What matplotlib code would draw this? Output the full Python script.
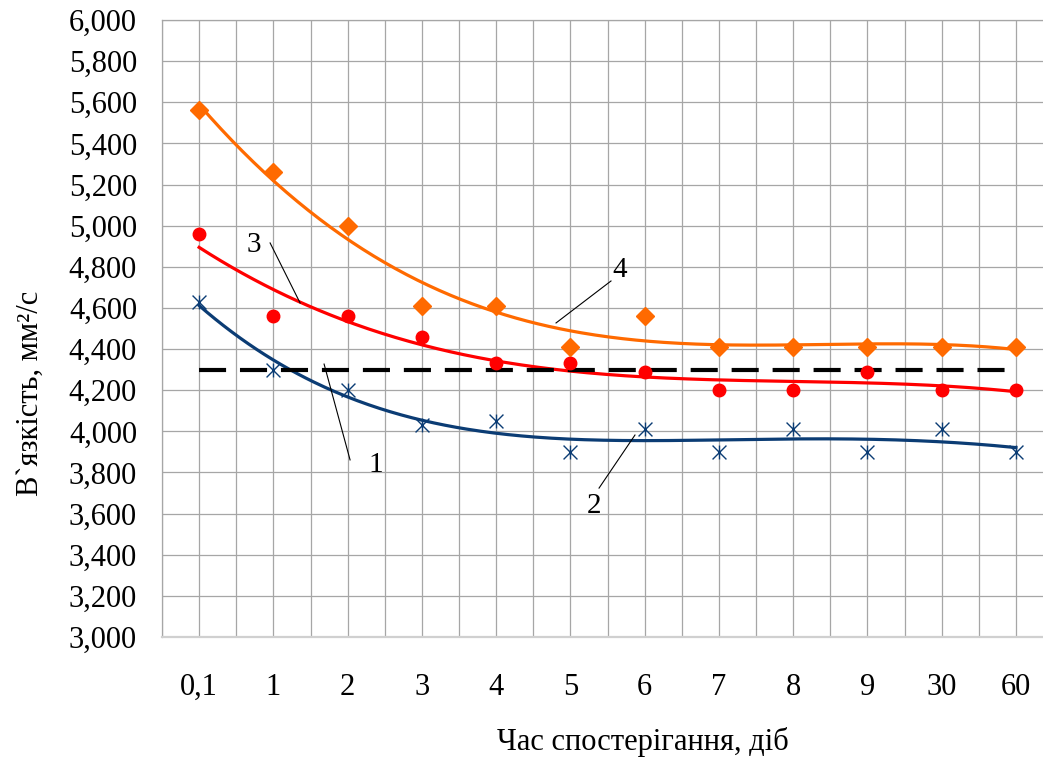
import numpy as np
import matplotlib.pyplot as plt
from matplotlib.path import Path

plt.rcParams['font.family'] = ['Liberation Serif', 'DejaVu Serif']
plt.rcParams['lines.scale_dashes'] = False

# categories (storage time, days)
x_labels = ['0,1', '1', '2', '3', '4', '5', '6', '7', '8', '9', '30', '60']
# 1 - norm level
norm = [4.30] * len(x_labels)
# 2, 3, 4 - measured viscosity, mm2/s
visc2 = [4.63, 4.30, 4.20, 4.03, 4.05, 3.90, 4.01, 3.90, 4.01, 3.90, 4.01, 3.90]
visc3 = [4.96, 4.56, 4.56, 4.46, 4.33, 4.33, 4.29, 4.20, 4.20, 4.29, 4.20, 4.20]
visc4 = [5.56, 5.26, 5.00, 4.61, 4.61, 4.41, 4.56, 4.41, 4.41, 4.41, 4.41, 4.41]

c_blue = '#0B3C74'
c_red = '#FF0000'
c_orange = '#FF6A00'

# Excel-like star marker: X with a vertical bar
star = Path([(-1, -1), (1, 1), (-1, 1), (1, -1), (0, -1), (0, 1)],
            [Path.MOVETO, Path.LINETO, Path.MOVETO, Path.LINETO, Path.MOVETO, Path.LINETO])

fig = plt.figure(figsize=(10.43, 7.6), dpi=100)
ax = fig.add_axes([162 / 1043, 123 / 760, 891 / 1043, 617 / 760])

x = np.arange(len(x_labels))
xf = np.linspace(0, len(x_labels) - 1, 300)

# polynomial trend lines
for vals, col, deg in [(visc2, c_blue, 4), (visc3, c_red, 3), (visc4, c_orange, 4)]:
    p = np.polyfit(x, vals, deg)
    ax.plot(xf, np.polyval(p, xf), color=col, lw=2.3, zorder=3)

ax.plot(x, norm, color='black', lw=3, dashes=(19.5, 10), zorder=4)

ax.plot(x, visc2, ls='none', marker=star, ms=10, mec=c_blue, mew=1.0, zorder=5)
ax.plot(x, visc3, ls='none', marker='o', ms=9, color=c_red, zorder=5)
ax.plot(x, visc4, ls='none', marker='D', ms=9, color=c_orange, zorder=5)

# curve labels with leader lines
ax.plot([1.683, 2.033], [4.327, 3.861], color='black', lw=0.8, zorder=6)
ax.plot([5.87, 5.386], [3.982, 3.724], color='black', lw=0.8, zorder=6)
ax.plot([0.956, 1.36], [4.916, 4.624], color='black', lw=0.8, zorder=6)
ax.plot([5.547, 4.807], [4.731, 4.527], color='black', lw=0.8, zorder=6)
for tx, ty, s in [(2.383, 3.836, '1'), (5.318, 3.637, '2'), (0.74, 4.906, '3'), (5.67, 4.785, '4')]:
    ax.text(tx, ty, s, fontsize=21, ha='center', va='center', zorder=6)

ax.set_xlim(-0.5, len(x_labels) - 0.5)
ax.set_ylim(3.0, 6.0)
ax.set_xticks(x)
ax.set_xticklabels(x_labels)
ax.set_xticks(np.arange(-0.5, len(x_labels), 1.0), minor=True)
yt = np.arange(3.0, 6.001, 0.2)
ax.set_yticks(yt)
ax.set_yticklabels([f'{v:.3f}'.replace('.', ',') for v in yt])
ax.tick_params(axis='both', which='both', length=0, labelsize=22)
ax.tick_params(axis='x', pad=26)
ax.tick_params(axis='y', pad=18)

ax.grid(True, which='both', axis='x', color='#A6A6A6', lw=0.9)
ax.grid(True, which='major', axis='y', color='#A6A6A6', lw=0.9)
ax.set_axisbelow(True)
for side in ['top', 'left', 'right']:
    ax.spines[side].set_color('#A6A6A6')
    ax.spines[side].set_linewidth(0.9)
ax.spines['bottom'].set_color('#D0D0D0')
ax.spines['bottom'].set_linewidth(1.6)

fig.text(30 / 1043, 1 - 393 / 760, 'В`язкість, мм²/с', rotation=90,
         ha='center', va='center', fontsize=22)
fig.text(643 / 1043, 1 - 742 / 760, 'Час спостерігання, діб',
         ha='center', va='center', fontsize=22)

fig.savefig('out.png', dpi=100)
